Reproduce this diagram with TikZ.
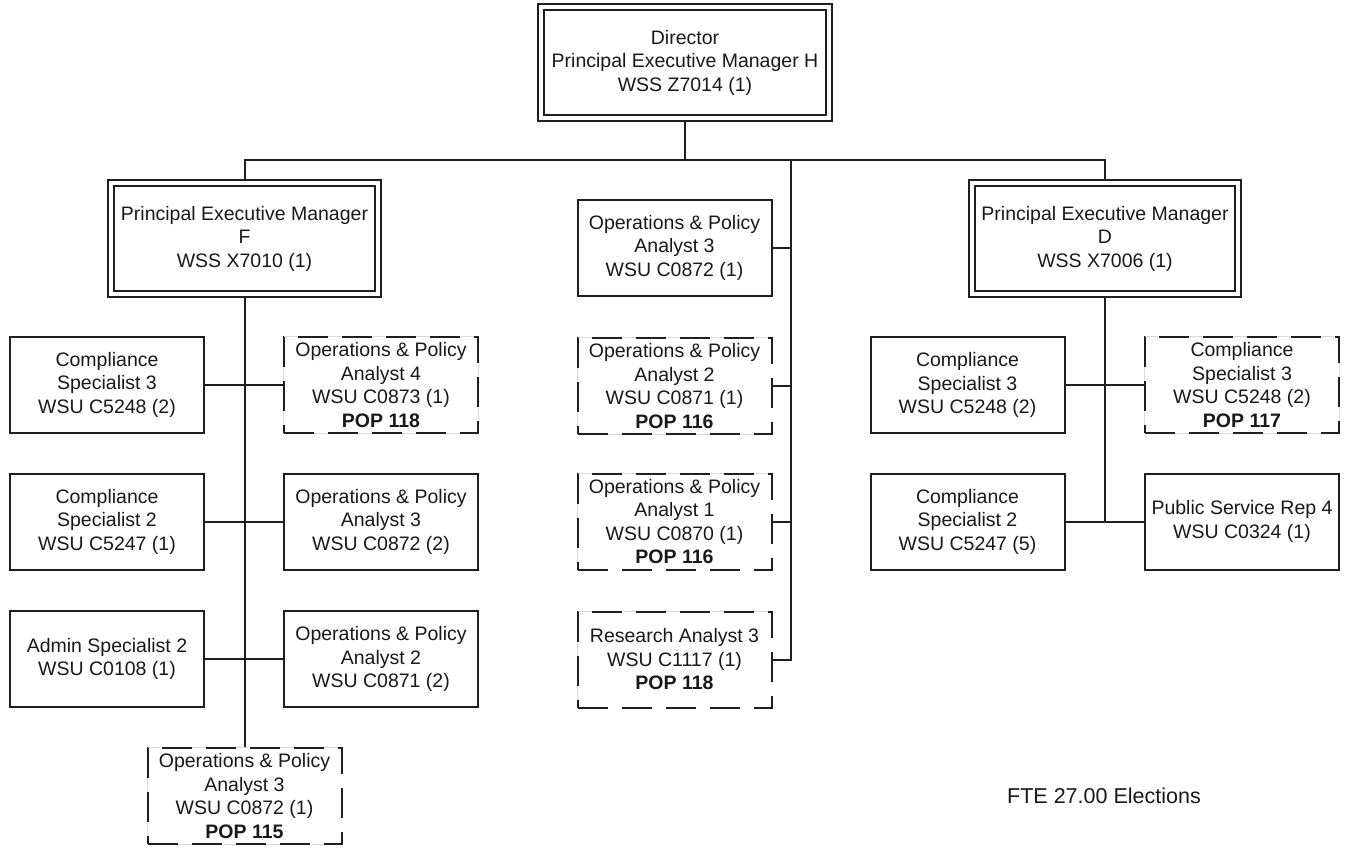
\documentclass[tikz,border=0pt]{standalone}
\usepackage{fontspec}
\setmainfont{Liberation Sans}
\usetikzlibrary{backgrounds}
\begin{document}
\begin{tikzpicture}[x=1pt,y=-1pt,
  every node/.style={font=\fontsize{19.5}{23.5}\selectfont, text=black!90, align=center, inner sep=0pt},
  posbox/.style={draw=black!88, line width=2pt, fill=white, minimum width=194pt, minimum height=96pt},
  vacbox/.style={posbox, dash pattern=on 30pt off 14pt, preaction={draw=black!15, solid, line width=1.2pt}},
  headbox/.style={draw=black!88, line width=2.2pt, double=white, double distance=3.5pt, fill=white, minimum height=111pt},
  wire/.style={draw=black!88, line width=2pt}]
\useasboundingbox (0,0) rectangle (1348,849);

% heads of the division and its two branches
\node[headbox, minimum width=288pt] (dir) at (685,62.5) {Director\\Principal Executive Manager H\\WSS Z7014 (1)};
\node[headbox, minimum width=267pt] (pemF) at (244.5,238.5) {Principal Executive Manager\\F\\WSS X7010 (1)};
\node[headbox, minimum width=266pt] (pemD) at (1105,238.5) {Principal Executive Manager\\D\\WSS X7006 (1)};

% branch F
\node[posbox] (fL1) at (107,384.5) {Compliance\\Specialist 3\\WSU C5248 (2)};
\node[posbox] (fL2) at (107,521.5) {Compliance\\Specialist 2\\WSU C5247 (1)};
\node[posbox] (fL3) at (107,659) {Admin Specialist 2\\WSU C0108 (1)};
\node[vacbox] (fR1) at (381,385) {Operations \& Policy\\Analyst 4\\WSU C0873 (1)\\\textbf{POP 118}};
\node[posbox] (fR2) at (381,521.5) {Operations \& Policy\\Analyst 3\\WSU C0872 (2)};
\node[posbox] (fR3) at (381,659) {Operations \& Policy\\Analyst 2\\WSU C0871 (2)};
\node[vacbox] (fB) at (244.5,796) {Operations \& Policy\\Analyst 3\\WSU C0872 (1)\\\textbf{POP 115}};

% staff reporting directly to the director
\node[posbox] (c1) at (674.5,247.5) {Operations \& Policy\\Analyst 3\\WSU C0872 (1)};
\node[vacbox] (c2) at (674.5,386) {Operations \& Policy\\Analyst 2\\WSU C0871 (1)\\\textbf{POP 116}};
\node[vacbox] (c3) at (674.5,521.5) {Operations \& Policy\\Analyst 1\\WSU C0870 (1)\\\textbf{POP 116}};
\node[vacbox] (c4) at (674.5,659.5) {Research Analyst 3\\WSU C1117 (1)\\\textbf{POP 118}};

% branch D
\node[posbox] (dL1) at (967.5,385) {Compliance\\Specialist 3\\WSU C5248 (2)};
\node[posbox] (dL2) at (967.5,521.5) {Compliance\\Specialist 2\\WSU C5247 (5)};
\node[vacbox] (dR1) at (1242,385) {Compliance\\Specialist 3\\WSU C5248 (2)\\\textbf{POP 117}};
\node[posbox] (dR2) at (1242,521.5) {Public Service Rep 4\\WSU C0324 (1)};

\node[font=\fontsize{21.5}{25}\selectfont] (fte) at (1104,796) {FTE 27.00 Elections};

\coordinate (bus) at (685,160);
\coordinate (ctop) at (791,160);

\begin{pgfonlayer}{background}
  \fill[white] (0,0) rectangle (1348,849);
  % director to branches
  \draw[wire] (dir.south) -- (bus);
  \draw[wire] (pemF.north) |- (bus) -| (pemD.north);
  % direct reports
  \draw[wire] (ctop) |- (c4.east);
  \draw[wire] (c1.east) -- (c1.east -| ctop);
  \draw[wire] (c2.east) -- (c2.east -| ctop);
  \draw[wire] (c3.east) -- (c3.east -| ctop);
  % branch F
  \draw[wire] (pemF.south) -- (fB.north);
  \draw[wire] (fL1.east) -- (fL1.east -| fR1.west);
  \draw[wire] (fL2.east) -- (fR2.west);
  \draw[wire] (fL3.east) -- (fR3.west);
  % branch D
  \draw[wire] (pemD.south) -- (pemD.south |- dL2.east);
  \draw[wire] (dL1.east) -- (dL1.east -| dR1.west);
  \draw[wire] (dL2.east) -- (dR2.west);
\end{pgfonlayer}
\end{tikzpicture}
\end{document}
